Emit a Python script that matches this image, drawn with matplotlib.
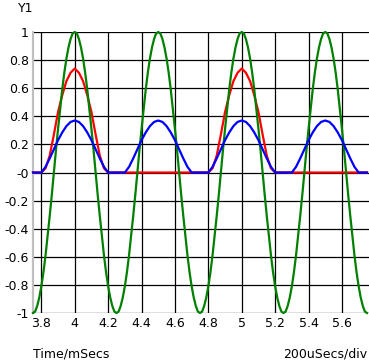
import matplotlib
matplotlib.use('Agg')
import matplotlib.pyplot as plt

# time axes, ms
t_start = 3.75
time_ms = [round(t_start + 0.025 * k, 4) for k in range(81)]      # red / blue samples
time_fine = [round(t_start + 0.0125 * k, 5) for k in range(161)]  # green samples

# green trace (0.0125 ms samples)
green = [
    -1, -0.99, -0.95, -0.89, -0.81, -0.71, -0.59, -0.45, -0.31, -0.16,
    0, 0.16, 0.31, 0.45, 0.59, 0.71, 0.81, 0.89, 0.95, 0.99,
    1, 0.99, 0.95, 0.89, 0.81, 0.71, 0.59, 0.45, 0.31, 0.16,
    0, -0.16, -0.31, -0.45, -0.59, -0.71, -0.81, -0.89, -0.95, -0.99,
    -1, -0.99, -0.95, -0.89, -0.81, -0.71, -0.59, -0.45, -0.31, -0.16,
    0, 0.16, 0.31, 0.45, 0.59, 0.71, 0.81, 0.89, 0.95, 0.99,
    1, 0.99, 0.95, 0.89, 0.81, 0.71, 0.59, 0.45, 0.31, 0.16,
    0, -0.16, -0.31, -0.45, -0.59, -0.71, -0.81, -0.89, -0.95, -0.99,
    -1, -0.99, -0.95, -0.89, -0.81, -0.71, -0.59, -0.45, -0.31, -0.16,
    0, 0.16, 0.31, 0.45, 0.59, 0.71, 0.81, 0.89, 0.95, 0.99,
    1, 0.99, 0.95, 0.89, 0.81, 0.71, 0.59, 0.45, 0.31, 0.16,
    0, -0.16, -0.31, -0.45, -0.59, -0.71, -0.81, -0.89, -0.95, -0.99,
    -1, -0.99, -0.95, -0.89, -0.81, -0.71, -0.59, -0.45, -0.31, -0.16,
    0, 0.16, 0.31, 0.45, 0.59, 0.71, 0.81, 0.89, 0.95, 0.99,
    1, 0.99, 0.95, 0.89, 0.81, 0.71, 0.59, 0.45, 0.31, 0.16,
    0, -0.16, -0.31, -0.45, -0.59, -0.71, -0.81, -0.89, -0.95, -0.99,
    -1,
]

# red trace (humps at 4 and 5 ms)
red = [
    0, 0, 0, 0.03, 0.12, 0.27, 0.43, 0.55, 0.65, 0.71,
    0.74, 0.71, 0.65, 0.55, 0.43, 0.27, 0.12, 0.03, 0, 0,
    0, 0, 0, 0, 0, 0, 0, 0, 0, 0,
    0, 0, 0, 0, 0, 0, 0, 0, 0, 0,
    0, 0, 0, 0.03, 0.12, 0.27, 0.43, 0.55, 0.65, 0.71,
    0.74, 0.71, 0.65, 0.55, 0.43, 0.27, 0.12, 0.03, 0, 0,
    0, 0, 0, 0, 0, 0, 0, 0, 0, 0,
    0, 0, 0, 0, 0, 0, 0, 0, 0, 0,
    0,
]

# blue trace (humps every 0.5 ms)
blue = [
    0, 0, 0, 0.04, 0.10, 0.165, 0.23, 0.285, 0.33, 0.36,
    0.37, 0.36, 0.33, 0.285, 0.23, 0.165, 0.10, 0.04, 0, 0,
    0, 0, 0, 0.04, 0.10, 0.165, 0.23, 0.285, 0.33, 0.36,
    0.37, 0.36, 0.33, 0.285, 0.23, 0.165, 0.10, 0.04, 0, 0,
    0, 0, 0, 0.04, 0.10, 0.165, 0.23, 0.285, 0.33, 0.36,
    0.37, 0.36, 0.33, 0.285, 0.23, 0.165, 0.10, 0.04, 0, 0,
    0, 0, 0, 0.04, 0.10, 0.165, 0.23, 0.285, 0.33, 0.36,
    0.37, 0.36, 0.33, 0.285, 0.23, 0.165, 0.10, 0.04, 0, 0,
    0,
]

x_ticks = [3.8, 4.0, 4.2, 4.4, 4.6, 4.8, 5.0, 5.2, 5.4, 5.6]
x_labels = ['3.8', '4', '4.2', '4.4', '4.6', '4.8', '5', '5.2', '5.4', '5.6']
y_ticks = [-1, -0.8, -0.6, -0.4, -0.2, 0, 0.2, 0.4, 0.6, 0.8, 1]
y_labels = ['-1', '-0.8', '-0.6', '-0.4', '-0.2', '-0', '0.2', '0.4', '0.6', '0.8', '1']

plt.rcParams['font.family'] = 'DejaVu Sans'
W, H = 369, 361
fig = plt.figure(figsize=(W / 100, H / 100), dpi=100)
ax = fig.add_axes([33 / W, 48 / H, 336 / W, 281 / H])

ax.set_xlim(3.75, 5.762)
ax.set_ylim(-1, 1)

# grid lines
for xv in x_ticks:
    ax.axvline(xv, color='black', lw=0.9, zorder=1)
for yv in y_ticks:
    ax.axhline(yv, color='black', lw=0.9, zorder=1)

ax.plot(time_ms, red, color='#ff0000', lw=1.6, zorder=3, clip_on=False)
ax.plot(time_fine, green, color='#008000', lw=1.6, zorder=4, clip_on=False)
ax.plot(time_ms, blue, color='#0000ff', lw=1.6, zorder=5, clip_on=False)

for s in ['top', 'right', 'bottom']:
    ax.spines[s].set_visible(False)
ax.spines['left'].set_color('#c0c0c0')
ax.spines['left'].set_linewidth(1.6)

ax.set_xticks(x_ticks)
ax.set_xticklabels(x_labels)
ax.set_yticks(y_ticks)
ax.set_yticklabels(y_labels)
ax.tick_params(length=0, labelsize=9, pad=3)

fig.text(18 / W, 1 - 9 / H, 'Y1', fontsize=9, va='center', ha='left')
fig.text(33 / W, 1 - 354 / H, 'Time/mSecs', fontsize=9, va='center', ha='left')
fig.text(367 / W, 1 - 354 / H, '200uSecs/div', fontsize=9, va='center', ha='right')

fig.savefig('out.png', dpi=100)
